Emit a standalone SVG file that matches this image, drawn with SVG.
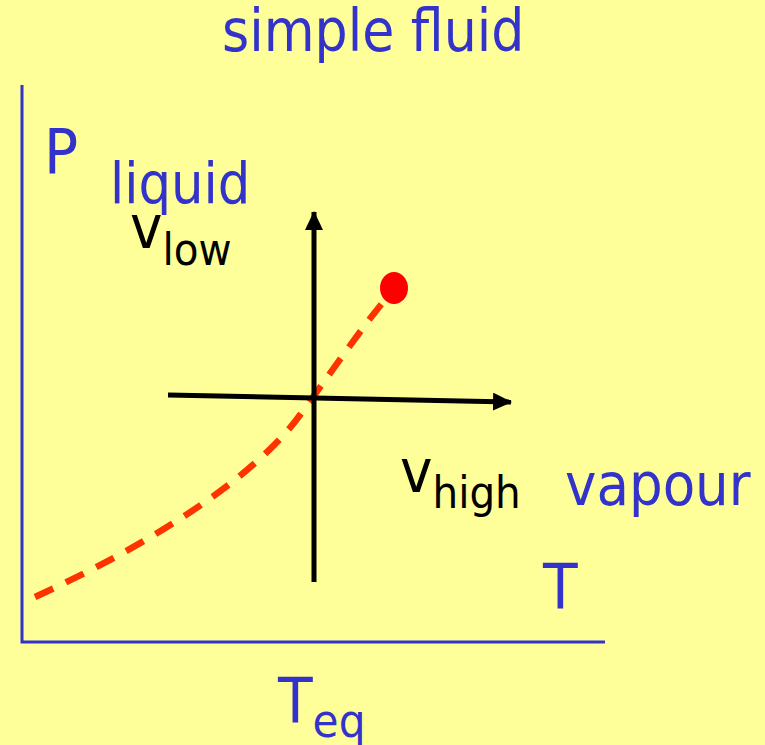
<svg xmlns="http://www.w3.org/2000/svg" width="765" height="745" viewBox="0 0 765 745">
<style>
.b{fill:#3333CC;font-family:"DejaVu Sans Condensed","DejaVu Sans",sans-serif;font-stretch:condensed}
.k{fill:#000;font-family:"DejaVu Sans Condensed","DejaVu Sans",sans-serif;font-stretch:condensed}
.ax{stroke:#3333CC;stroke-width:3;fill:none}
.ar{stroke:#000;stroke-width:5;fill:none}
</style>
<defs>
<marker id="ah" markerWidth="19" markerHeight="18" refX="18" refY="9" orient="auto" markerUnits="userSpaceOnUse">
<path d="M0,0 L19,9 L0,18 Z" fill="#000"/>
</marker>
</defs>
<rect width="765" height="745" fill="#FFFF99"/>
<text class="b" x="222" y="51" font-size="58">simple fluid</text>
<g id="axes">
<path class="ax" d="M22,85 L22,642 L605,642"/>
</g>
<g id="labels">
<text class="b" x="44" y="173" font-size="63">P</text>
<text class="b" x="110" y="203" font-size="57">liquid</text>
<text class="k" x="130" y="248" font-size="61">v<tspan font-size="45" dy="17">low</tspan></text>
<text class="k" x="400" y="492" font-size="61">v<tspan font-size="45" dy="16">high</tspan></text>
<text class="b" x="565" y="505" font-size="59">vapour</text>
<text class="b" x="543" y="608" font-size="63">T</text>
<text class="b" x="278" y="722" font-size="63">T<tspan font-size="47" dy="15">eq</tspan></text>
</g>
<g id="curve">
<path d="M35,597 C170,535 260,470 300,415 S360,330 388,296" fill="none" stroke="#FF3300" stroke-width="6.5" stroke-dasharray="20,14"/>
<ellipse cx="394" cy="288" rx="14" ry="16" fill="#FF0000"/>
</g>
<g id="connectors">
<line class="ar" x1="314" y1="582" x2="314" y2="212" marker-end="url(#ah)"/>
<line class="ar" x1="168" y1="395" x2="511" y2="402" marker-end="url(#ah)"/>
</g>
</svg>
